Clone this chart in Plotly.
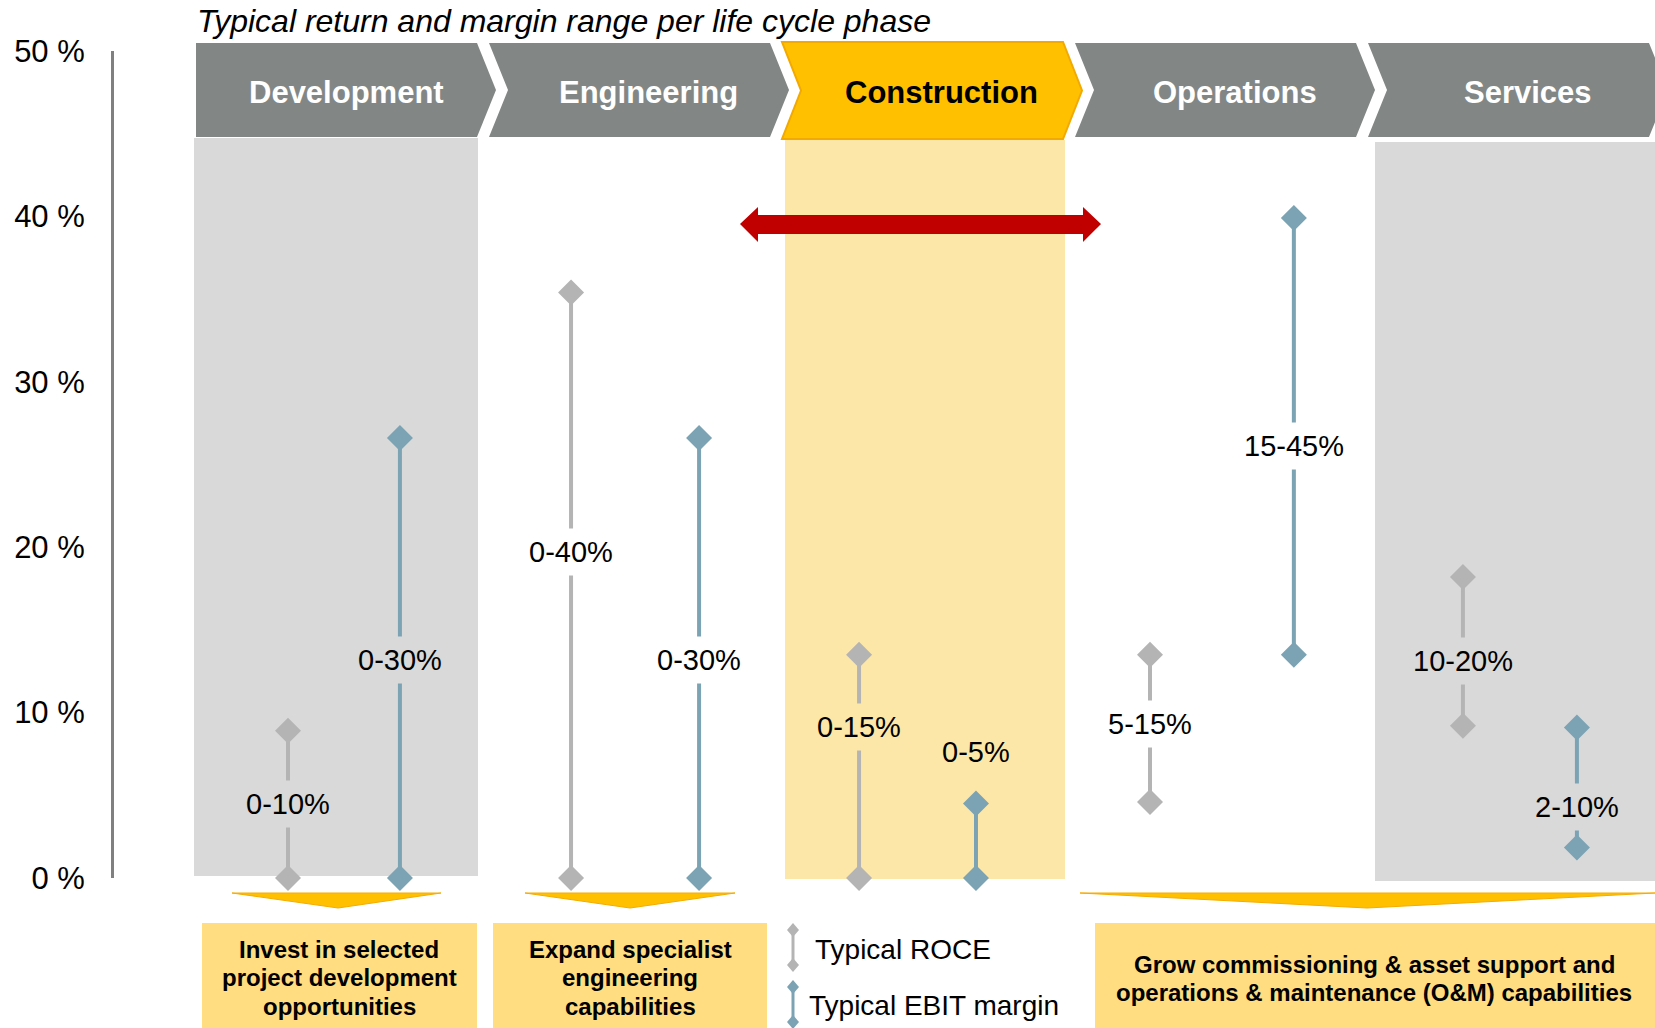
import plotly.graph_objects as go

W, H = 1655, 1028

# ---- data (percent) ----
phases = ["Development", "Engineering", "Construction", "Operations", "Services"]
roce_low = [0, 0, 0, 4.6, 9.2]
roce_high = [8.9, 35.4, 13.5, 13.5, 18.2]
ebit_low = [0, 0, 0, 13.5, 1.85]
ebit_high = [26.6, 26.6, 4.5, 39.9, 9.1]
roce_labels = ["0-10%", "0-40%", "0-15%", "5-15%", "10-20%"]
ebit_labels = ["0-30%", "0-30%", "0-5%", "15-45%", "2-10%"]
roce_label_y = [4.5, 19.7, 9.1, 9.3, 13.1]
ebit_label_y = [13.2, 13.2, 7.6, 26.1, 4.3]
y_ticks = [0, 10, 20, 30, 40, 50]
y_tick_text = ["0 %", "10 %", "20 %", "30 %", "40 %", "50 %"]
actions = [
    ["Invest in selected", "project development", "opportunities"],
    ["Expand specialist", "engineering", "capabilities"],
    ["Grow commissioning & asset support and", "operations & maintenance (O&M) capabilities"],
]
title = "Typical return and margin range per life cycle phase"
legend_names = ["Typical ROCE", "Typical EBIT margin"]

# ---- styling / layout ----
FONT = "Liberation Sans, Arial, sans-serif"
CHEV_GRAY = "#828786"
COL_GRAY = "#D9D9D9"
COL_YEL = "#FDE7A8"
GOLD = "#FFC000"
BOX_YEL = "#FFDD80"
ROCE_C = "#B4B4B4"
EBIT_C = "#7BA3B4"
RED = "#C00000"

X0, STEP = 196, 293          # first chevron left edge, chevron pitch (px)
roce_dx = [0.314, 0.280, 0.263, 0.256, 0.324]
ebit_dx = [0.696, 0.717, 0.662, 0.747, 0.713]
label_bg = [COL_GRAY, "white", COL_YEL, "white", COL_GRAY]
AX_X, Y0_PX, Y50_PX = 114, 878, 51


def px(x):
    return x / W


def py(y):
    return 1 - y / H


def path(points):
    return "M " + " L ".join(f"{px(x):.5f},{py(y):.5f}" for x, y in points) + " Z"


fig = go.Figure()

# lollipops
for i in range(len(phases)):
    fig.add_trace(go.Scatter(
        x=[i + roce_dx[i]] * 2, y=[roce_low[i], roce_high[i]],
        mode="lines+markers", line=dict(color=ROCE_C, width=4),
        marker=dict(symbol="diamond", size=20, color=ROCE_C),
        cliponaxis=False, showlegend=False, hoverinfo="skip"))
    fig.add_trace(go.Scatter(
        x=[i + ebit_dx[i]] * 2, y=[ebit_low[i], ebit_high[i]],
        mode="lines+markers", line=dict(color=EBIT_C, width=4),
        marker=dict(symbol="diamond", size=20, color=EBIT_C),
        cliponaxis=False, showlegend=False, hoverinfo="skip"))

shapes = []
# column backgrounds
for (x1, y1, x2, y2, c) in [(194, 138, 478, 876, COL_GRAY),
                            (785, 140, 1065, 879, COL_YEL),
                            (1375, 142, 1655, 881, COL_GRAY)]:
    shapes.append(dict(type="rect", xref="paper", yref="paper", layer="below",
                       x0=px(x1), x1=px(x2), y0=py(y2), y1=py(y1),
                       fillcolor=c, line_width=0))

# chevrons
for i, name in enumerate(phases):
    L = X0 + STEP * i
    top, bot = (42, 139) if i == 2 else (43, 137)
    mid = (top + bot) / 2
    pts = [(L, top), (L + 281, top), (L + 300, mid), (L + 281, bot), (L, bot)]
    if i > 0:
        pts.append((L + 19, mid))
    gold = i == 2
    shapes.append(dict(type="path", xref="paper", yref="paper", path=path(pts),
                       fillcolor=GOLD if gold else CHEV_GRAY,
                       line=dict(color="#F2A900" if gold else CHEV_GRAY, width=2 if gold else 0)))

# downward wedges
for (xl, xr, xt) in [(232, 441, 338), (525, 735, 630), (1080, 1655, 1367)]:
    shapes.append(dict(type="path", xref="paper", yref="paper",
                       path=path([(xl, 893), (xr, 893), (xt, 908)]),
                       fillcolor=GOLD, line=dict(color="#F5AC00", width=1)))

# action boxes
for (x1, x2) in [(202, 477), (493, 767), (1095, 1655)]:
    shapes.append(dict(type="rect", xref="paper", yref="paper",
                       x0=px(x1), x1=px(x2), y0=py(1030), y1=py(923),
                       fillcolor=BOX_YEL, line_width=0))

# red double arrow
shapes.append(dict(type="path", xref="paper", yref="paper", fillcolor=RED, line_width=0,
                   path=path([(740, 224), (758, 207), (758, 215), (1083, 215), (1083, 207),
                              (1101, 224), (1083, 242), (1083, 234), (758, 234), (758, 242)])))

# legend icons
for (yt, yb, c) in [(930, 965, ROCE_C), (987, 1022, EBIT_C)]:
    shapes.append(dict(type="line", xref="paper", yref="paper",
                       x0=px(793), x1=px(793), y0=py(yt), y1=py(yb), line=dict(color=c, width=3)))
    for yc in (yt, yb):
        shapes.append(dict(type="path", xref="paper", yref="paper", fillcolor=c, line_width=0,
                           path=path([(793, yc - 7), (799, yc), (793, yc + 7), (787, yc)])))

ann = []
ann.append(dict(text=f"<i>{title}</i>", x=px(195), y=py(21), xanchor="left", yanchor="middle",
                font=dict(size=32, color="black")))
for i, name in enumerate(phases):
    L = X0 + STEP * i
    cx = (L + L + 300) / 2 if i == 0 else L + 159.5
    ann.append(dict(text=f"<b>{name}</b>", x=px(cx), y=py(92), xanchor="center", yanchor="middle",
                    font=dict(size=31, color="black" if i == 2 else "white")))

for i in range(len(phases)):
    for dx, lab, ly in [(roce_dx[i], roce_labels[i], roce_label_y[i]),
                        (ebit_dx[i], ebit_labels[i], ebit_label_y[i])]:
        ann.append(dict(text=lab, x=i + dx, y=ly, xref="x", yref="y", showarrow=False,
                        xanchor="center", yanchor="middle", bgcolor=label_bg[i], borderpad=7,
                        font=dict(size=29, color="black")))

box_cx = [339, 630, 1374]
box_y = [[949, 977, 1006], [949, 977, 1006], [964, 992]]
for lines, cx, ys in zip(actions, box_cx, box_y):
    for t, yy in zip(lines, ys):
        ann.append(dict(text=f"<b>{t}</b>", x=px(cx), y=py(yy), xanchor="center", yanchor="middle",
                        font=dict(size=24, color="black")))

for name, (lx, ly) in zip(legend_names, [(813, 949), (807, 1005)]):
    ann.append(dict(text=name, x=px(lx), y=py(ly), xanchor="left", yanchor="middle",
                    font=dict(size=28, color="black")))

for a in ann:
    a.setdefault("xref", "paper")
    a.setdefault("yref", "paper")
    a["showarrow"] = False

fig.update_layout(
    width=W, height=H,
    margin=dict(l=0, r=0, t=0, b=0, autoexpand=False),
    paper_bgcolor="white", plot_bgcolor="rgba(0,0,0,0)",
    font=dict(family=FONT, color="black"),
    shapes=shapes, annotations=ann, showlegend=False,
    xaxis=dict(domain=[px(AX_X), 1], range=[(AX_X - X0) / STEP, (W - X0) / STEP],
               visible=False, fixedrange=True, automargin=False),
    yaxis=dict(domain=[py(Y0_PX), py(Y50_PX)], range=[0, 50], automargin=False,
               tickvals=y_ticks, ticktext=y_tick_text, tickfont=dict(size=31, color="black"),
               showgrid=False, zeroline=False, showline=True, linecolor="#808080", linewidth=3,
               ticks="", ticklabelstandoff=20, fixedrange=True),
)

fig.write_html("out.html", config={"displayModeBar": False},
               post_script="document.body.style.margin='0';document.body.style.overflow='hidden';")
